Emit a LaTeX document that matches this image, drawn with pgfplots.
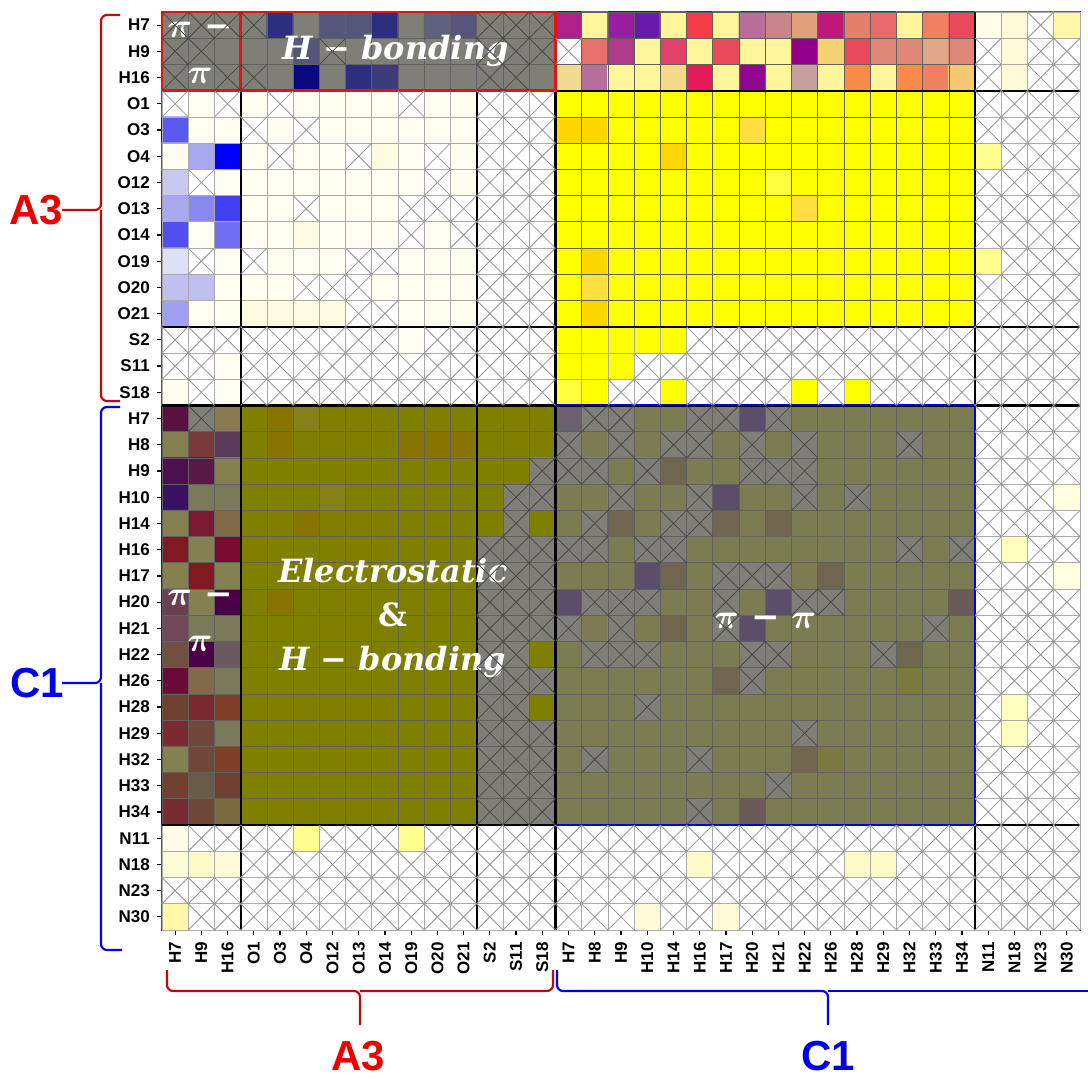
\documentclass[border=0pt]{standalone}
\usepackage{pgfplots}
\pgfplotsset{compat=1.18}
\usepackage{pgfplotstable}
\usepackage{fontspec}
\setmainfont{Liberation Sans}
\newfontfamily\notefont{DejaVu Serif}
\newcommand{\bpi}{{\boldmath$\pi$}}

\definecolor{labred}{RGB}{235,0,0}
\definecolor{bracered}{RGB}{190,10,10}
\definecolor{boxred}{RGB}{225,20,20}
\definecolor{labblue}{RGB}{0,0,235}
\definecolor{boxblue}{RGB}{0,0,230}

% one cross spanning a whole cell (cell = 13.114pt)
\pgfdeclareplotmark{cellx}{%
  \pgfpathmoveto{\pgfqpoint{-6.557pt}{-6.557pt}}\pgfpathlineto{\pgfqpoint{6.557pt}{6.557pt}}%
  \pgfpathmoveto{\pgfqpoint{-6.557pt}{6.557pt}}\pgfpathlineto{\pgfqpoint{6.557pt}{-6.557pt}}%
  \pgfusepathqstroke}

\tikzset{gridlt/.style={draw=black!33, line width=0.35pt},
         griddk/.style={draw=black!62, line width=0.35pt}}

% cell codes, row by row from the top (H7 of A3) to the bottom (N30);
% code mod 100 = palette index, 1xx = crossed light cell, 2xx = crossed grey cell
\pgfplotstableread[row sep=\\]{
c\\
210\\ 210\\ 210\\ 210\\ 11\\ 10\\ 12\\ 12\\ 11\\ 10\\ 15\\ 12\\ 210\\ 210\\ 210\\ 27\\ 28\\ 29\\ 30\\ 28\\ 31\\ 28\\ 32\\ 33\\ 34\\ 35\\ 36\\ 37\\ 28\\ 38\\ 39\\ 40\\ 41\\ 100\\ 42\\
210\\ 210\\ 10\\ 10\\ 10\\ 12\\ 210\\ 10\\ 10\\ 10\\ 10\\ 10\\ 210\\ 210\\ 210\\ 100\\ 43\\ 44\\ 28\\ 45\\ 28\\ 39\\ 28\\ 28\\ 46\\ 47\\ 39\\ 48\\ 48\\ 49\\ 48\\ 100\\ 41\\ 100\\ 100\\
210\\ 10\\ 210\\ 210\\ 10\\ 13\\ 10\\ 11\\ 14\\ 10\\ 10\\ 10\\ 210\\ 210\\ 10\\ 50\\ 32\\ 28\\ 28\\ 56\\ 51\\ 28\\ 55\\ 28\\ 52\\ 28\\ 53\\ 28\\ 53\\ 38\\ 54\\ 100\\ 41\\ 100\\ 100\\
100\\ 1\\ 100\\ 1\\ 100\\ 1\\ 1\\ 1\\ 1\\ 100\\ 1\\ 1\\ 100\\ 100\\ 100\\ 6\\ 6\\ 6\\ 6\\ 6\\ 6\\ 6\\ 6\\ 6\\ 6\\ 6\\ 6\\ 6\\ 6\\ 6\\ 6\\ 100\\ 100\\ 100\\ 100\\
16\\ 1\\ 1\\ 100\\ 1\\ 100\\ 1\\ 1\\ 1\\ 1\\ 1\\ 1\\ 100\\ 100\\ 100\\ 7\\ 7\\ 6\\ 6\\ 6\\ 6\\ 6\\ 8\\ 6\\ 6\\ 6\\ 6\\ 6\\ 6\\ 6\\ 6\\ 100\\ 100\\ 100\\ 100\\
1\\ 17\\ 18\\ 1\\ 100\\ 1\\ 1\\ 100\\ 2\\ 1\\ 100\\ 1\\ 100\\ 100\\ 100\\ 6\\ 6\\ 6\\ 6\\ 7\\ 6\\ 6\\ 6\\ 6\\ 6\\ 6\\ 6\\ 6\\ 6\\ 6\\ 6\\ 5\\ 100\\ 100\\ 100\\
19\\ 100\\ 1\\ 1\\ 1\\ 1\\ 1\\ 1\\ 1\\ 1\\ 100\\ 1\\ 100\\ 100\\ 100\\ 6\\ 6\\ 6\\ 6\\ 6\\ 6\\ 6\\ 6\\ 9\\ 6\\ 6\\ 6\\ 6\\ 6\\ 6\\ 6\\ 100\\ 100\\ 100\\ 100\\
17\\ 20\\ 21\\ 1\\ 1\\ 100\\ 1\\ 1\\ 1\\ 100\\ 100\\ 100\\ 100\\ 100\\ 100\\ 6\\ 6\\ 6\\ 6\\ 6\\ 6\\ 6\\ 6\\ 6\\ 8\\ 6\\ 6\\ 6\\ 6\\ 6\\ 6\\ 100\\ 100\\ 100\\ 100\\
22\\ 1\\ 23\\ 1\\ 1\\ 2\\ 1\\ 1\\ 1\\ 100\\ 1\\ 100\\ 100\\ 100\\ 100\\ 6\\ 6\\ 6\\ 6\\ 6\\ 6\\ 6\\ 6\\ 6\\ 6\\ 6\\ 6\\ 6\\ 6\\ 6\\ 6\\ 100\\ 100\\ 100\\ 100\\
24\\ 100\\ 1\\ 100\\ 1\\ 1\\ 1\\ 100\\ 100\\ 1\\ 1\\ 1\\ 100\\ 100\\ 100\\ 6\\ 7\\ 6\\ 6\\ 6\\ 6\\ 6\\ 6\\ 6\\ 6\\ 6\\ 6\\ 6\\ 6\\ 6\\ 6\\ 5\\ 100\\ 100\\ 100\\
25\\ 25\\ 1\\ 1\\ 1\\ 100\\ 100\\ 100\\ 1\\ 1\\ 1\\ 1\\ 100\\ 100\\ 100\\ 6\\ 8\\ 6\\ 6\\ 6\\ 6\\ 6\\ 6\\ 6\\ 6\\ 6\\ 6\\ 6\\ 6\\ 6\\ 6\\ 100\\ 100\\ 100\\ 100\\
26\\ 1\\ 1\\ 2\\ 2\\ 2\\ 2\\ 100\\ 100\\ 1\\ 1\\ 1\\ 100\\ 100\\ 100\\ 6\\ 7\\ 6\\ 6\\ 6\\ 6\\ 6\\ 6\\ 6\\ 6\\ 6\\ 6\\ 6\\ 6\\ 6\\ 6\\ 100\\ 100\\ 100\\ 100\\
100\\ 100\\ 100\\ 100\\ 100\\ 100\\ 100\\ 100\\ 100\\ 1\\ 100\\ 100\\ 100\\ 100\\ 100\\ 6\\ 6\\ 6\\ 6\\ 6\\ 100\\ 100\\ 100\\ 100\\ 100\\ 100\\ 100\\ 100\\ 100\\ 100\\ 100\\ 100\\ 100\\ 100\\ 100\\
100\\ 100\\ 1\\ 100\\ 100\\ 100\\ 100\\ 100\\ 100\\ 100\\ 100\\ 100\\ 100\\ 100\\ 100\\ 6\\ 6\\ 6\\ 100\\ 100\\ 100\\ 100\\ 100\\ 100\\ 100\\ 100\\ 100\\ 100\\ 100\\ 100\\ 100\\ 100\\ 100\\ 100\\ 100\\
1\\ 100\\ 1\\ 100\\ 100\\ 100\\ 100\\ 100\\ 100\\ 100\\ 100\\ 100\\ 100\\ 100\\ 100\\ 9\\ 6\\ 100\\ 100\\ 6\\ 100\\ 100\\ 100\\ 100\\ 6\\ 100\\ 6\\ 100\\ 100\\ 100\\ 100\\ 100\\ 100\\ 100\\ 100\\
57\\ 210\\ 58\\ 82\\ 83\\ 84\\ 82\\ 82\\ 82\\ 82\\ 82\\ 82\\ 82\\ 82\\ 82\\ 88\\ 210\\ 210\\ 85\\ 85\\ 210\\ 210\\ 86\\ 210\\ 85\\ 85\\ 85\\ 85\\ 85\\ 85\\ 85\\ 100\\ 100\\ 100\\ 100\\
59\\ 60\\ 61\\ 82\\ 83\\ 82\\ 82\\ 82\\ 82\\ 83\\ 83\\ 83\\ 82\\ 82\\ 82\\ 210\\ 85\\ 210\\ 85\\ 210\\ 210\\ 85\\ 210\\ 85\\ 210\\ 85\\ 85\\ 85\\ 210\\ 85\\ 85\\ 100\\ 100\\ 100\\ 100\\
62\\ 63\\ 59\\ 82\\ 82\\ 82\\ 82\\ 82\\ 82\\ 82\\ 82\\ 82\\ 82\\ 82\\ 210\\ 210\\ 210\\ 85\\ 210\\ 87\\ 85\\ 85\\ 210\\ 210\\ 210\\ 85\\ 85\\ 85\\ 85\\ 85\\ 85\\ 100\\ 100\\ 100\\ 100\\
64\\ 65\\ 65\\ 82\\ 82\\ 82\\ 84\\ 82\\ 82\\ 82\\ 82\\ 82\\ 82\\ 210\\ 210\\ 85\\ 85\\ 210\\ 85\\ 85\\ 210\\ 86\\ 85\\ 85\\ 210\\ 85\\ 210\\ 85\\ 85\\ 85\\ 85\\ 100\\ 100\\ 100\\ 3\\
59\\ 66\\ 67\\ 82\\ 82\\ 83\\ 82\\ 82\\ 82\\ 82\\ 82\\ 82\\ 82\\ 210\\ 82\\ 85\\ 210\\ 87\\ 85\\ 210\\ 210\\ 87\\ 85\\ 87\\ 85\\ 85\\ 85\\ 85\\ 85\\ 85\\ 85\\ 100\\ 100\\ 100\\ 100\\
68\\ 59\\ 69\\ 82\\ 82\\ 82\\ 82\\ 82\\ 82\\ 82\\ 82\\ 82\\ 210\\ 210\\ 210\\ 210\\ 210\\ 85\\ 210\\ 210\\ 85\\ 85\\ 85\\ 85\\ 85\\ 85\\ 85\\ 85\\ 210\\ 85\\ 210\\ 100\\ 4\\ 100\\ 100\\
59\\ 68\\ 59\\ 82\\ 82\\ 82\\ 82\\ 82\\ 82\\ 82\\ 82\\ 82\\ 210\\ 210\\ 210\\ 85\\ 85\\ 85\\ 86\\ 87\\ 85\\ 210\\ 210\\ 210\\ 85\\ 87\\ 85\\ 85\\ 85\\ 85\\ 85\\ 100\\ 100\\ 100\\ 3\\
70\\ 59\\ 71\\ 82\\ 83\\ 82\\ 82\\ 82\\ 82\\ 82\\ 82\\ 82\\ 210\\ 210\\ 210\\ 86\\ 210\\ 210\\ 210\\ 85\\ 85\\ 210\\ 85\\ 86\\ 210\\ 210\\ 85\\ 85\\ 85\\ 85\\ 89\\ 100\\ 100\\ 100\\ 100\\
72\\ 65\\ 65\\ 82\\ 82\\ 82\\ 82\\ 82\\ 82\\ 82\\ 82\\ 82\\ 210\\ 210\\ 210\\ 210\\ 85\\ 210\\ 85\\ 87\\ 85\\ 210\\ 86\\ 85\\ 85\\ 85\\ 85\\ 85\\ 85\\ 210\\ 85\\ 100\\ 100\\ 100\\ 100\\
73\\ 71\\ 74\\ 82\\ 82\\ 82\\ 82\\ 82\\ 82\\ 82\\ 82\\ 82\\ 210\\ 210\\ 82\\ 85\\ 210\\ 210\\ 210\\ 85\\ 85\\ 85\\ 210\\ 210\\ 85\\ 85\\ 85\\ 210\\ 87\\ 85\\ 85\\ 100\\ 100\\ 100\\ 100\\
75\\ 67\\ 65\\ 82\\ 82\\ 82\\ 82\\ 82\\ 82\\ 82\\ 82\\ 82\\ 210\\ 210\\ 210\\ 85\\ 85\\ 85\\ 85\\ 85\\ 85\\ 87\\ 210\\ 85\\ 85\\ 85\\ 85\\ 85\\ 90\\ 85\\ 85\\ 100\\ 100\\ 100\\ 100\\
76\\ 77\\ 78\\ 82\\ 82\\ 82\\ 82\\ 82\\ 82\\ 82\\ 82\\ 82\\ 210\\ 210\\ 82\\ 85\\ 85\\ 85\\ 210\\ 85\\ 85\\ 85\\ 85\\ 85\\ 85\\ 85\\ 85\\ 85\\ 85\\ 85\\ 85\\ 100\\ 4\\ 100\\ 100\\
77\\ 81\\ 65\\ 82\\ 82\\ 82\\ 82\\ 82\\ 82\\ 82\\ 82\\ 82\\ 210\\ 210\\ 210\\ 85\\ 85\\ 85\\ 85\\ 85\\ 85\\ 85\\ 85\\ 85\\ 210\\ 85\\ 85\\ 85\\ 85\\ 85\\ 85\\ 100\\ 4\\ 100\\ 100\\
59\\ 81\\ 78\\ 82\\ 82\\ 82\\ 82\\ 82\\ 82\\ 82\\ 82\\ 82\\ 210\\ 210\\ 210\\ 85\\ 210\\ 85\\ 85\\ 85\\ 210\\ 85\\ 85\\ 85\\ 87\\ 90\\ 85\\ 85\\ 85\\ 85\\ 85\\ 100\\ 100\\ 100\\ 100\\
76\\ 79\\ 76\\ 82\\ 82\\ 82\\ 82\\ 82\\ 82\\ 82\\ 82\\ 82\\ 210\\ 210\\ 210\\ 85\\ 85\\ 85\\ 85\\ 85\\ 85\\ 85\\ 85\\ 210\\ 85\\ 85\\ 85\\ 85\\ 85\\ 85\\ 85\\ 100\\ 100\\ 100\\ 100\\
77\\ 81\\ 80\\ 82\\ 82\\ 82\\ 82\\ 82\\ 82\\ 82\\ 82\\ 82\\ 210\\ 210\\ 210\\ 85\\ 85\\ 85\\ 85\\ 85\\ 210\\ 85\\ 89\\ 85\\ 85\\ 85\\ 85\\ 85\\ 85\\ 85\\ 85\\ 100\\ 100\\ 100\\ 100\\
40\\ 100\\ 100\\ 100\\ 100\\ 5\\ 100\\ 100\\ 100\\ 5\\ 100\\ 100\\ 100\\ 100\\ 100\\ 100\\ 100\\ 100\\ 100\\ 100\\ 100\\ 100\\ 100\\ 100\\ 100\\ 100\\ 100\\ 100\\ 100\\ 100\\ 100\\ 100\\ 100\\ 100\\ 100\\
41\\ 91\\ 41\\ 100\\ 100\\ 100\\ 100\\ 100\\ 100\\ 100\\ 100\\ 100\\ 100\\ 100\\ 100\\ 100\\ 100\\ 100\\ 100\\ 100\\ 91\\ 100\\ 100\\ 100\\ 100\\ 100\\ 91\\ 91\\ 100\\ 100\\ 100\\ 100\\ 100\\ 100\\ 100\\
100\\ 100\\ 100\\ 100\\ 100\\ 100\\ 100\\ 100\\ 100\\ 100\\ 100\\ 100\\ 100\\ 100\\ 100\\ 100\\ 100\\ 100\\ 100\\ 100\\ 100\\ 100\\ 100\\ 100\\ 100\\ 100\\ 100\\ 100\\ 100\\ 100\\ 100\\ 100\\ 100\\ 100\\ 100\\
42\\ 100\\ 100\\ 100\\ 100\\ 100\\ 100\\ 100\\ 100\\ 100\\ 100\\ 100\\ 100\\ 100\\ 100\\ 100\\ 100\\ 100\\ 41\\ 100\\ 100\\ 41\\ 100\\ 100\\ 100\\ 100\\ 100\\ 100\\ 100\\ 100\\ 100\\ 100\\ 100\\ 100\\ 100\\
}\cells

\begin{document}
\begin{tikzpicture}
\begin{axis}[
  at={(81pt,-6pt)}, anchor=north west,
  scale only axis, width=459pt, height=459pt,
  xmin=-0.5, xmax=34.5, ymin=-0.5, ymax=34.5,
  clip=false,
  axis line style={black, line width=1pt},
  xtick={0,...,34}, ytick={0,...,34},
  xticklabels={H7,H9,H16,O1,O3,O4,O12,O13,O14,O19,O20,O21,S2,S11,S18,H7,H8,H9,H10,H14,H16,H17,H20,H21,H22,H26,H28,H29,H32,H33,H34,N11,N18,N23,N30},
  yticklabels={N30,N23,N18,N11,H34,H33,H32,H29,H28,H26,H22,H21,H20,H17,H16,H14,H10,H9,H8,H7,S18,S11,S2,O21,O20,O19,O14,O13,O12,O4,O3,O1,H16,H9,H7},
  xtick pos=bottom, ytick pos=left,
  tick align=outside, major tick length=2.6pt,
  tick style={black, line width=0.6pt},
  xticklabel style={rotate=90, anchor=east, font=\fontsize{8.5}{9}\selectfont\bfseries},
  yticklabel style={font=\fontsize{8.5}{9}\selectfont\bfseries},
  colormap={cellpal}{
    rgb255=(255,255,255) rgb255=(255,253,240) rgb255=(255,251,224) rgb255=(255,254,224)
    rgb255=(255,255,192) rgb255=(255,255,144) rgb255=(255,255,0) rgb255=(255,215,0)
    rgb255=(255,224,64) rgb255=(255,255,64) rgb255=(127,127,120) rgb255=(46,46,128)
    rgb255=(85,86,122) rgb255=(10,10,128) rgb255=(60,60,124) rgb255=(95,96,126)
    rgb255=(90,90,240) rgb255=(168,168,240) rgb255=(0,0,255) rgb255=(200,200,240)
    rgb255=(136,136,240) rgb255=(64,64,240) rgb255=(80,80,240) rgb255=(112,112,240)
    rgb255=(224,224,244) rgb255=(192,192,240) rgb255=(160,160,240) rgb255=(176,32,138)
    rgb255=(255,245,154) rgb255=(154,31,160) rgb255=(106,26,168) rgb255=(245,60,70)
    rgb255=(184,110,154) rgb255=(200,134,138) rgb255=(224,160,122) rgb255=(192,24,122)
    rgb255=(228,128,104) rgb255=(232,106,106) rgb255=(240,128,96) rgb255=(232,74,90)
    rgb255=(255,253,232) rgb255=(255,251,216) rgb255=(255,248,168) rgb255=(232,112,106)
    rgb255=(176,58,138) rgb255=(224,64,106) rgb255=(144,0,138) rgb255=(245,208,112)
    rgb255=(224,136,120) rgb255=(224,168,136) rgb255=(240,220,144) rgb255=(232,26,90)
    rgb255=(200,160,160) rgb255=(250,138,72) rgb255=(245,200,112) rgb255=(144,8,144)
    rgb255=(245,216,136) rgb255=(90,16,64) rgb255=(138,122,80) rgb255=(132,128,80)
    rgb255=(122,58,58) rgb255=(90,58,90) rgb255=(74,16,80) rgb255=(90,26,72)
    rgb255=(58,16,96) rgb255=(122,122,90) rgb255=(122,26,48) rgb255=(128,106,72)
    rgb255=(128,26,32) rgb255=(122,10,48) rgb255=(106,64,80) rgb255=(74,0,72)
    rgb255=(112,72,88) rgb255=(112,80,64) rgb255=(106,90,96) rgb255=(106,10,56)
    rgb255=(112,64,48) rgb255=(122,42,48) rgb255=(128,64,40) rgb255=(106,90,72)
    rgb255=(122,106,64) rgb255=(112,72,56) rgb255=(128,128,0) rgb255=(136,116,0)
    rgb255=(133,128,24) rgb255=(124,124,82) rgb255=(90,78,106) rgb255=(112,102,80)
    rgb255=(106,96,112) rgb255=(106,90,88) rgb255=(122,122,64) rgb255=(255,251,200)
  },
]
% coloured cells (column and row of the n-th cell, rounded away from float edges)
\addplot[matrix plot*, mesh/cols=35, colormap access=direct,
  point meta={\thisrow{c}-100*floor((\thisrow{c}+0.5)/100)}]
  table[x index=0, y index=0,
        x expr={\coordindex-35*floor((\coordindex+0.5)/35)},
        y expr={34-floor((\coordindex+0.5)/35)}] {\cells};

% cell borders: light everywhere, darker over the filled blocks
\pgfplotsinvokeforeach{-0.5,0.5,...,34.5}{
  \draw[gridlt] (axis cs:#1,-0.5) -- (axis cs:#1,34.5);
  \draw[gridlt] (axis cs:-0.5,#1) -- (axis cs:34.5,#1);
}
\pgfplotsinvokeforeach{14.5,15.5,...,30.5}{\draw[griddk] (axis cs:#1,22.5) -- (axis cs:#1,34.5);}
\pgfplotsinvokeforeach{22.5,23.5,...,34.5}{\draw[griddk] (axis cs:14.5,#1) -- (axis cs:30.5,#1);}
\pgfplotsinvokeforeach{-0.5,0.5,...,30.5}{\draw[griddk] (axis cs:#1,3.5) -- (axis cs:#1,19.5);}
\pgfplotsinvokeforeach{3.5,4.5,...,19.5}{\draw[griddk] (axis cs:-0.5,#1) -- (axis cs:30.5,#1);}
\pgfplotsinvokeforeach{-0.5,0.5,...,14.5}{\draw[griddk] (axis cs:#1,31.5) -- (axis cs:#1,34.5);}
\pgfplotsinvokeforeach{31.5,32.5,33.5}{\draw[griddk] (axis cs:-0.5,#1) -- (axis cs:14.5,#1);}

% crossed cells (no interaction)
\addplot[only marks, mark=cellx, color=black!42, line width=0.4pt]
  table[x index=0, y index=0,
        x expr={\coordindex-35*floor((\coordindex+0.5)/35)},
        y expr={(\thisrow{c}>99 && \thisrow{c}<200) ? 34-floor((\coordindex+0.5)/35) : nan}] {\cells};
\addplot[only marks, mark=cellx, color=black!72, line width=0.4pt]
  table[x index=0, y index=0,
        x expr={\coordindex-35*floor((\coordindex+0.5)/35)},
        y expr={(\thisrow{c}>199) ? 34-floor((\coordindex+0.5)/35) : nan}] {\cells};

% block separators
\draw[black, line width=1pt] (axis cs:2.5,-0.5) -- (axis cs:2.5,31.5);
\draw[black, line width=0.9pt] (axis cs:11.5,-0.5) -- (axis cs:11.5,31.5);
\draw[black, line width=1pt] (axis cs:30.5,-0.5) -- (axis cs:30.5,34.5);
\draw[black, line width=1pt] (axis cs:14.5,31.5) -- (axis cs:34.5,31.5);
\draw[black, line width=1pt] (axis cs:-0.5,22.5) -- (axis cs:34.5,22.5);
\draw[black, line width=1pt] (axis cs:-0.5,3.5) -- (axis cs:34.5,3.5);
\draw[black, line width=1.7pt] (axis cs:-0.5,19.5) -- (axis cs:34.5,19.5);
\draw[black, line width=1.7pt] (axis cs:14.5,-0.5) -- (axis cs:14.5,34.5);
\draw[boxred, line width=1.2pt] (axis cs:-0.5,31.5) rectangle (axis cs:14.5,34.5);
\draw[boxred, line width=1.2pt] (axis cs:2.5,31.5) -- (axis cs:2.5,34.5);
\draw[boxblue, line width=1pt] (axis cs:14.5,19.5) -- (axis cs:30.5,19.5) -- (axis cs:30.5,3.5) -- (axis cs:14.5,3.5);

% interaction labels
\begin{scope}[every node/.style={text=white, align=center}]
\node[font=\fontsize{17}{23}\notefont\bfseries\itshape] at (axis cs:0.95,32.95) {\bpi\ −\\\bpi};
\node[font=\fontsize{16}{20}\notefont\bfseries\itshape] at (axis cs:8.4,33) {H − bonding};
\node[font=\fontsize{16}{22}\notefont\bfseries\itshape] at (axis cs:8.3,11.4) {Electrostatic\\{\upshape\&}\\H − bonding};
\node[font=\fontsize{17}{23}\notefont\bfseries\itshape] at (axis cs:0.95,11.3) {\bpi\ −\\\bpi};
\node[font=\fontsize{17}{20}\notefont\bfseries\itshape] at (axis cs:22.5,11.3) {\bpi\ − \bpi};
\end{scope}
\end{axis}

% group braces
\begin{scope}[line width=1.1pt, rounded corners=3pt]
\draw[bracered] (60pt,-7.5pt) -- (50.5pt,-7.5pt) -- (50.5pt,-105pt) -- (31pt,-105pt);
\draw[bracered] (60pt,-200.5pt) -- (50.5pt,-200.5pt) -- (50.5pt,-105pt);
\draw[labblue] (60pt,-203.5pt) -- (50.5pt,-203.5pt) -- (50.5pt,-341.5pt) -- (31pt,-341.5pt);
\draw[labblue] (61pt,-475pt) -- (50.5pt,-475pt) -- (50.5pt,-341.5pt);
\draw[bracered] (83.5pt,-485pt) -- (83.5pt,-495.5pt) -- (180pt,-495.5pt) -- (180pt,-512.5pt);
\draw[bracered] (276.5pt,-485pt) -- (276.5pt,-495.5pt) -- (180pt,-495.5pt);
\draw[labblue] (278.5pt,-485pt) -- (278.5pt,-495.5pt) -- (414pt,-495.5pt) -- (414pt,-512.5pt);
\draw[labblue] (560pt,-495.5pt) -- (414pt,-495.5pt);
\end{scope}
\node[font=\fontsize{21}{21}\selectfont\bfseries, text=labred] at (18pt,-105pt) {A3};
\node[font=\fontsize{21}{21}\selectfont\bfseries, text=labblue] at (18.5pt,-341.5pt) {C1};
\node[font=\fontsize{21}{21}\selectfont\bfseries, text=labred] at (179pt,-528pt) {A3};
\node[font=\fontsize{21}{21}\selectfont\bfseries, text=labblue] at (414pt,-528pt) {C1};

\pgfresetboundingbox
\path[use as bounding box] (0pt,0pt) rectangle (544pt,-539.5pt);
\end{tikzpicture}
\end{document}
